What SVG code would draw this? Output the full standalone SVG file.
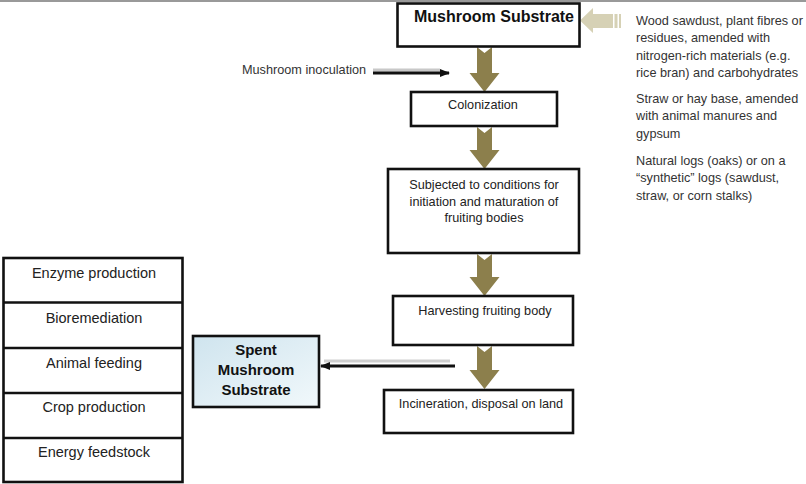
<svg xmlns="http://www.w3.org/2000/svg" width="806" height="484" viewBox="0 0 806 484">
<style>
.box{fill:#fff;stroke:#111;stroke-width:2.6}
.t{font-family:"Liberation Sans",Arial,sans-serif;font-size:12.7px;fill:#222;text-anchor:middle}
.tb{font-family:"Liberation Sans",Arial,sans-serif;font-weight:bold;fill:#111;text-anchor:middle}
.tr{font-family:"Liberation Sans",Arial,sans-serif;font-size:12.7px;fill:#333}
.tl{font-family:"Liberation Sans",Arial,sans-serif;font-size:14.5px;fill:#222;text-anchor:middle}
.gold{fill:#8c7f4c}
</style>
<defs>
<linearGradient id="blue" x1="0" y1="0" x2="1" y2="1">
<stop offset="0" stop-color="#cfe4ee"/>
<stop offset="1" stop-color="#f1f8fb"/>
</linearGradient>
<marker id="ah" markerWidth="10" markerHeight="8" refX="9" refY="4" orient="auto" markerUnits="userSpaceOnUse">
<path d="M0,0 L10,4 L0,8 Z" fill="#111"/>
</marker>
</defs>
<rect x="0" y="0" width="806" height="2" fill="#999"/>

<g id="connectors">
<path class="gold" d="M477,47 L484.5,53 L492,47 L492,73 L499.5,73 L484.5,92 L469.5,73 L477,73 Z"/>
<path class="gold" d="M477,127 L484.5,133 L492,127 L492,150 L499.5,150 L484.5,169 L469.5,150 L477,150 Z"/>
<path class="gold" d="M477,254 L484.5,260 L492,254 L492,277 L499.5,277 L484.5,296 L469.5,277 L477,277 Z"/>
<path class="gold" d="M477,346 L484.5,352 L492,346 L492,370 L499.5,370 L484.5,389 L469.5,370 L477,370 Z"/>
<g id="input-arrow" fill="#d6d1b5">
<path d="M580,20.5 L593,8 L593,14 L613,14 L613,28 L593,28 L593,33 Z"/>
<rect x="614.5" y="14" width="3" height="14"/>
<rect x="619" y="14" width="2" height="14"/>
</g>
<line x1="373" y1="70" x2="440" y2="70" stroke="#c8c8c8" stroke-width="3"/>
<line x1="373" y1="73" x2="449" y2="73" stroke="#111" stroke-width="3" marker-end="url(#ah)"/>
<line x1="324" y1="361" x2="450" y2="361" stroke="#cfcfcf" stroke-width="3"/>
<line x1="455" y1="366" x2="321" y2="366" stroke="#111" stroke-width="3" marker-end="url(#ah)"/>
</g>

<g id="mushroom-substrate">
<rect class="box" x="397.5" y="3.5" width="182" height="43"/>
<text class="tb" x="494" y="22" font-size="16">Mushroom Substrate</text>
</g>

<g id="inoculation">
<text class="tr" x="242" y="74">Mushroom inoculation</text>
</g>

<g id="colonization">
<rect class="box" x="411" y="92" width="146" height="34"/>
<text class="t" x="483" y="109">Colonization</text>
</g>

<g id="conditions">
<rect class="box" x="388" y="169" width="191" height="84"/>
<text class="t" x="484" y="189">Subjected to conditions for</text>
<text class="t" x="484" y="205.5">initiation and maturation of</text>
<text class="t" x="484" y="222">fruiting bodies</text>
</g>

<g id="harvesting">
<rect class="box" x="393" y="296" width="180" height="49"/>
<text class="t" x="485" y="315">Harvesting fruiting body</text>
</g>

<g id="incineration">
<rect class="box" x="384" y="390" width="189" height="43"/>
<text class="t" x="481" y="407.5">Incineration, disposal on land</text>
</g>

<g id="spent">
<rect x="193" y="336" width="126" height="71" fill="url(#blue)" stroke="#111" stroke-width="2.6"/>
<text class="tb" x="256" y="355" font-size="15">Spent</text>
<text class="tb" x="256" y="375" font-size="15">Mushroom</text>
<text class="tb" x="256" y="394.5" font-size="15">Substrate</text>
</g>

<g id="sources">
<text class="tr" x="636" y="25">Wood sawdust, plant fibres or</text>
<text class="tr" x="636" y="42">residues, amended with</text>
<text class="tr" x="636" y="59.5">nitrogen-rich materials (e.g.</text>
<text class="tr" x="636" y="77">rice bran) and carbohydrates</text>
<text class="tr" x="636" y="102.5">Straw or hay base, amended</text>
<text class="tr" x="636" y="120">with animal manures and</text>
<text class="tr" x="636" y="137.5">gypsum</text>
<text class="tr" x="636" y="164.5">Natural logs (oaks) or on a</text>
<text class="tr" x="636" y="182">“synthetic” logs (sawdust,</text>
<text class="tr" x="636" y="199.5">straw, or corn stalks)</text>
</g>

<g id="uses">
<rect class="box" x="3.5" y="258" width="179" height="224"/>
<line x1="3.5" y1="302.5" x2="182.5" y2="302.5" stroke="#111" stroke-width="2.6"/>
<line x1="3.5" y1="348" x2="182.5" y2="348" stroke="#111" stroke-width="2.6"/>
<line x1="3.5" y1="393" x2="182.5" y2="393" stroke="#111" stroke-width="2.6"/>
<line x1="3.5" y1="438" x2="182.5" y2="438" stroke="#111" stroke-width="2.6"/>
<text class="tl" x="94" y="278">Enzyme production</text>
<text class="tl" x="94" y="323">Bioremediation</text>
<text class="tl" x="94" y="368">Animal feeding</text>
<text class="tl" x="94" y="412">Crop production</text>
<text class="tl" x="94" y="457">Energy feedstock</text>
</g>
</svg>
